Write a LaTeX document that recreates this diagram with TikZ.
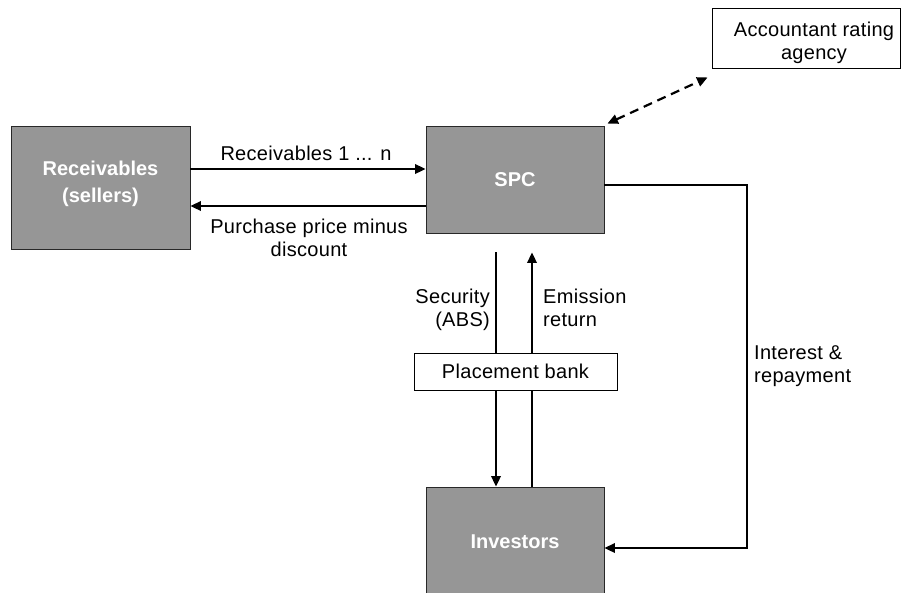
\documentclass[tikz,border=0pt]{standalone}
\usepackage{fontspec}
\setmainfont{Liberation Sans}[LetterSpace=1.5,BoldFeatures={LetterSpace=0}]
\usetikzlibrary{arrows.meta}
\definecolor{boxgray}{RGB}{150,150,150}
\definecolor{edgegray}{RGB}{40,40,40}
\begin{document}
\begin{tikzpicture}[x=1pt,y=-1pt,
  font=\fontsize{20}{23}\selectfont,
  graybox/.style={draw=edgegray, line width=0.9pt, fill=boxgray, minimum width=178pt, inner sep=0pt},
  boxtext/.style={text=white, font=\bfseries\fontsize{20}{23}\selectfont, align=center, inner sep=0pt},
  whitebox/.style={draw=black, line width=0.9pt, fill=white, inner sep=0pt},
  lbl/.style={inner sep=0pt},
  conn/.style={line width=2pt, -{Triangle[length=10.5pt,width=9.5pt]}},
  dconn/.style={line width=2.2pt, dash pattern=on 9pt off 6pt, {Triangle[length=10.5pt,width=9.5pt]}-{Triangle[length=10.5pt,width=9.5pt]}}
]
\useasboundingbox (0,0) rectangle (901,592);
\fill[white] (0,0) rectangle (901,592);

% boxes
\node[graybox, minimum width=179pt, minimum height=123pt,
      label={[boxtext, yshift=4pt]center:{Receivables\\[4pt](sellers)}}] (rec) at (100.5,187.5) {};
\node[graybox, minimum height=107pt,
      label={[boxtext]center:SPC}] (spc) at (515,179.5) {};
\node[graybox, minimum height=109pt,
      label={[boxtext]center:Investors}] (inv) at (515,541.5) {};
\node[whitebox, minimum width=188pt, minimum height=60pt,
      label={[lbl, align=center, xshift=8pt, yshift=-5pt]center:{Accountant rating\\agency}}] (acc) at (806,38) {};

% horizontal connectors
\draw[conn] ([yshift=18.5pt]rec.east) -- ([yshift=10.5pt]spc.west);
\draw[conn] ([yshift=-26.5pt]spc.west) -- ([yshift=-18.5pt]rec.east);
\node[lbl] (l1) at (306,153) {Receivables 1 ... n};
\node[lbl, align=center] (l2) at (309,238) {Purchase price minus\\discount};

% vertical connectors through the placement bank
\coordinate (sTop) at ([xshift=-19pt,yshift=-19pt]spc.south);
\coordinate (eTop) at ([xshift=17pt,yshift=-19pt]spc.south);
\draw[conn] (sTop) -- (sTop |- inv.north);
\draw[conn] (eTop |- inv.north) -- (eTop);
\node[whitebox, minimum width=203pt, minimum height=37pt] (pb) at (515.5,371.5) {Placement bank};
\node[lbl, align=right, anchor=east] (l3) at (490,310) {Security\\(ABS)};
\node[lbl, align=left, anchor=west] (l4) at (543,308) {Emission\\return};

% loop to investors
\draw[conn] ([yshift=-5.5pt]spc.east) -- ++(143,0) |- ([yshift=-6.5pt]inv.east);
\node[lbl, align=left, anchor=west] (l5) at (754,366) {Interest \&\\repayment};

% rating agency
\draw[dconn] ([shift={(3,-2)}]spc.north east) -- ([shift={(-4,9)}]acc.south west);
\end{tikzpicture}
\end{document}
